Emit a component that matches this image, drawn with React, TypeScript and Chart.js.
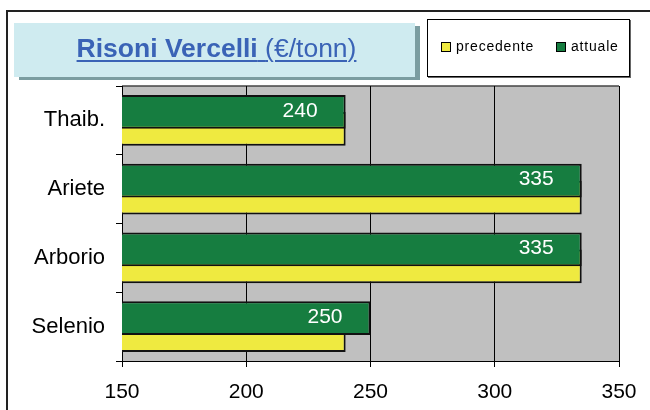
import React, { useEffect, useRef } from "react";
import { Chart, registerables } from "chart.js";

Chart.register(...registerables);

const categories = ["Thaib.", "Ariete", "Arborio", "Selenio"];
const attuale = [240, 335, 335, 250];
const precedente = [240, 335, 335, 240];
const xTicks = [150, 200, 250, 300, 350];
const seriesNames = ["precedente", "attuale"];
const titleBold = "Risoni Vercelli";
const titleUnit = "(€/tonn)";

const FONT = "'Liberation Sans', Arial, Helvetica, sans-serif";
const GREEN = "rgb(22,125,64)";
const YELLOW = "rgb(239,234,64)";
const PLOT_BG = "#c0c0c0";

const bgPlugin = {
  id: "plotBg",
  beforeDraw(chart: any) {
    const { ctx, chartArea } = chart;
    ctx.save();
    ctx.fillStyle = PLOT_BG;
    ctx.fillRect(chartArea.left, chartArea.top, chartArea.right - chartArea.left, chartArea.bottom - chartArea.top);
    ctx.strokeStyle = "#444";
    ctx.lineWidth = 1.5;
    ctx.beginPath();
    ctx.moveTo(chartArea.left, chartArea.top);
    ctx.lineTo(chartArea.right, chartArea.top);
    ctx.stroke();
    ctx.restore();
  },
};

const valueLabelPlugin = {
  id: "valueLabels",
  afterDatasetsDraw(chart: any) {
    const { ctx } = chart;
    const meta = chart.getDatasetMeta(0);
    ctx.save();
    ctx.fillStyle = "#ffffff";
    ctx.font = `21px ${FONT}`;
    ctx.textAlign = "right";
    ctx.textBaseline = "middle";
    meta.data.forEach((bar: any, i: number) => {
      const { x, y } = bar.getProps(["x", "y"], true);
      ctx.fillText(String(attuale[i]), x - 28, y - 1);
    });
    ctx.restore();
  },
};

function ChartCanvas() {
  const ref = useRef<HTMLCanvasElement | null>(null);
  useEffect(() => {
    if (!ref.current) return;
    const chart = new Chart(ref.current, {
      type: "bar",
      data: {
        labels: categories,
        datasets: [
          {
            label: seriesNames[1],
            data: attuale,
            backgroundColor: GREEN,
            borderColor: "#111",
            borderWidth: 2,
            borderSkipped: false,
          },
          {
            label: seriesNames[0],
            data: precedente,
            backgroundColor: YELLOW,
            borderColor: "#111",
            borderWidth: 2,
            borderSkipped: false,
          },
        ],
      },
      options: {
        indexAxis: "y",
        responsive: false,
        animation: false,
        events: [],
        layout: { padding: { left: 0, right: 31, top: 86, bottom: 0 } },
        datasets: {
          bar: { categoryPercentage: 0.4945, barPercentage: 2, grouped: true },
        },
        plugins: {
          legend: { display: false },
          tooltip: { enabled: false },
          title: { display: false },
        },
        scales: {
          x: {
            type: "linear",
            min: 150,
            max: 350,
            afterBuildTicks: (axis: any) => {
              axis.ticks = xTicks.map((v) => ({ value: v }));
            },
            afterFit: (s: any) => {
              s.height = 49;
            },
            grid: { color: "#000", lineWidth: 1, tickLength: 6, drawTicks: true },
            border: { display: true, color: "#000", width: 1 },
            ticks: { font: { family: FONT, size: 21 }, color: "#000", padding: 13, maxRotation: 0 },
          },
          y: {
            type: "category",
            afterFit: (s: any) => {
              s.width = 122;
            },
            grid: { drawOnChartArea: false, drawTicks: true, tickLength: 6, color: "#000", offset: true },
            border: { display: true, color: "#000", width: 1 },
            ticks: { font: { family: FONT, size: 22 }, color: "#000", padding: 11 },
          },
        },
      } as any,
      plugins: [bgPlugin, valueLabelPlugin],
    });
    return () => chart.destroy();
  }, []);
  return (
    <canvas
      ref={ref}
      width={650}
      height={410}
      style={{ position: "absolute", left: 0, top: 0, width: 650, height: 410, display: "block" }}
    />
  );
}

export default function App() {
  const swatch = (color: string, left: number) => (
    <div
      style={{
        position: "absolute",
        left,
        top: 42,
        width: 8,
        height: 8,
        background: color,
        border: "1px solid #000",
      }}
    />
  );
  const legendText = (text: string, left: number) => (
    <div
      style={{
        position: "absolute",
        left,
        top: 37,
        fontFamily: FONT,
        fontSize: 14,
        letterSpacing: "0.8px",
        lineHeight: "18px",
        color: "#000",
        whiteSpace: "nowrap",
      }}
    >
      {text}
    </div>
  );
  return (
    <div
      style={{
        position: "fixed",
        left: 0,
        top: 0,
        width: 650,
        height: 410,
        overflow: "hidden",
        background: "#fff",
      }}
    >
      <div
        style={{
          position: "absolute",
          left: 6,
          top: 10,
          width: 800,
          height: 600,
          borderLeft: "2px solid #222",
          borderTop: "2px solid #222",
        }}
      />
      <ChartCanvas />
      <div
        style={{
          position: "absolute",
          left: 14,
          top: 23,
          width: 401,
          height: 54,
          background: "rgb(207,235,240)",
          boxShadow: "5px 3px 0 0 rgb(123,157,161)",
          textAlign: "center",
          lineHeight: "50px",
          fontFamily: FONT,
          fontSize: 26.5,
          color: "rgb(58,99,182)",
          paddingLeft: 4,
          boxSizing: "border-box",
          whiteSpace: "nowrap",
        }}
      >
        <span
          style={{
            textDecoration: "underline",
            textDecorationThickness: "2px",
            textUnderlineOffset: "3px",
          }}
        >
          <b>{titleBold}</b> {titleUnit}
        </span>
      </div>
      <div
        style={{
          position: "absolute",
          left: 427,
          top: 19,
          width: 201,
          height: 56,
          background: "#fff",
          border: "1px solid #000",
          boxShadow: "1px 1px 0 0 #666",
        }}
      />
      {swatch(YELLOW, 441)}
      {legendText(seriesNames[0], 456)}
      {swatch(GREEN, 556)}
      {legendText(seriesNames[1], 571)}
    </div>
  );
}
